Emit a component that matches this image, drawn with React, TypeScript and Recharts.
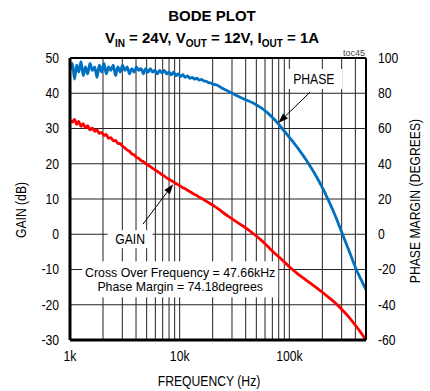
import React from 'react';
import { LineChart, Line, XAxis, YAxis, CartesianGrid, ReferenceLine, ReferenceDot } from 'recharts';

const FONT = "'Liberation Sans', Arial, sans-serif";
const SX = 0.87;

const freqs = [
  1000, 1050, 1100, 1150, 1200, 1260, 1320, 1380, 1450, 1520, 1600, 1680, 1760, 1850, 1940,
  2040, 2140, 2250, 2360, 2480, 2600, 2730, 2870, 3010, 3160, 3320, 3490, 3660, 3850, 4040,
  4240, 4450, 4670, 4900, 5150, 5400, 5670, 5960, 6260, 6570, 6900, 7250, 7610, 7990, 8390,
  8810, 9250, 9710, 10200, 10700, 11200, 11800, 12400, 13000, 13700, 14300, 15100, 15800, 16600,
  17400, 18300, 19200, 20200, 22000, 25000, 28000, 32000, 36000, 40000, 47660, 55000, 63000,
  72000, 86000, 100000, 120000, 140000, 155000, 180000, 200000, 228000, 260000, 298000, 340000,
  375000, 407000, 450000, 500000,
];

const gainDb = [
  32.5, 31.8, 32.6, 31.2, 32.0, 30.6, 31.4, 30.2, 30.8, 29.6, 30.1, 29.2, 29.6, 28.6, 28.9,
  28.0, 28.3, 27.2, 27.4, 26.5, 26.6, 25.8, 25.7, 25.0, 24.5, 23.9, 23.5, 22.8, 22.5, 21.8,
  21.5, 20.9, 20.6, 20.0, 19.6, 19.2, 18.7, 18.3, 17.8, 17.4, 16.9, 16.5, 16.0, 15.6, 15.2,
  14.8, 14.4, 14.0, 13.6, 13.2, 12.9, 12.5, 12.1, 11.7, 11.3, 11.0, 10.5, 10.2, 9.8,
  9.4, 9.0, 8.6, 8.2, 7.4, 6.1, 5.0, 3.8, 2.75, 1.8, 0, -1.6, -3.35,
  -5.1, -7.3, -9.2, -11.3, -12.85, -13.85, -15.35, -16.45, -17.9, -19.4, -21.2, -23.1,
  -24.7, -26.1, -27.95, -29.95,
];

const phaseDeg = [
  93, 97, 88, 96, 92, 98, 90, 95, 91, 97, 93, 95, 89, 96, 92,
  97, 91, 95, 93, 96, 90, 95, 92, 96, 93, 95, 91, 94, 92, 95,
  93, 94, 91, 94, 92, 94, 92, 93, 91, 93, 91.5, 93, 91, 92, 90.5,
  92, 90, 91, 89.5, 90.5, 89, 89.8, 88.5, 89, 88, 88.5, 87.5, 87.8, 87,
  86.8, 86, 85.8, 85.2, 84.5, 82.5, 81, 79.2, 77.6, 76.3, 74.18, 71.8, 69,
  65.5, 60, 55, 48.7, 42.8, 38.6, 31.8, 26.5, 19.1, 11.1, 1.7, -7.4,
  -14.2, -19.9, -25.6, -31.6,
];

const gridFreqs = [
  1000, 2000, 3000, 4000, 5000, 6000, 7000, 8000, 9000,
  10000, 20000, 30000, 40000, 50000, 60000, 70000, 80000, 90000,
  100000, 200000, 300000, 400000, 500000,
];
const decadeLabels: Record<number, string> = { 1000: '1k', 10000: '10k', 100000: '100k' };
const gainTicks = [-30, -20, -10, 0, 10, 20, 30, 40, 50];
const phaseTicks = [-60, -40, -20, 0, 20, 40, 60, 80, 100];

const title = 'BODE PLOT';
const crossoverText = ['Cross Over Frequency = 47.66kHz', 'Phase Margin = 74.18degrees'];

const data = freqs.map((f, i) => ({ f, gain: gainDb[i], phase: phaseDeg[i] }));

const CondText = (props: any) => {
  const { x, y, anchor, size = 14, sx = SX, children, dy, weight } = props;
  return (
    <g transform={`translate(${x},${y})`}>
      <text
        transform={`scale(${sx},1)`}
        textAnchor={anchor}
        dy={dy}
        fontFamily={FONT}
        fontSize={size}
        fontWeight={weight}
        fill="#000"
      >
        {children}
      </text>
    </g>
  );
};

const makeTick = (dy: string, fmt?: (v: number) => string) => (props: any) => {
  const { x, y, payload, textAnchor } = props;
  const label = fmt ? fmt(payload.value) : String(payload.value);
  if (!label) return null;
  return (
    <CondText x={x} y={y} anchor={textAnchor} dy={dy}>
      {label}
    </CondText>
  );
};

const XTick = makeTick('0.71em', (v: number) => decadeLabels[v] || '');
const YTick = makeTick('0.355em');

const LabelBox = (props: any) => {
  const { cx, cy, lines, w, h, lh, size = 14, sx = SX } = props;
  if (cx == null || cy == null) return null;
  const n = lines.length;
  return (
    <g>
      <rect x={cx - w / 2} y={cy - h / 2} width={w} height={h} fill="#fff" />
      {lines.map((t: string, i: number) => (
        <CondText
          key={i}
          x={cx}
          y={cy - ((n - 1) * lh) / 2 + i * lh}
          anchor="middle"
          dy="0.355em"
          size={size}
          sx={sx}
        >
          {t}
        </CondText>
      ))}
    </g>
  );
};

const Arrow = (props: any) => {
  const { x1, y1, x2, y2 } = props;
  if (x1 == null) return null;
  const dx = x2 - x1;
  const dy = y2 - y1;
  const len = Math.sqrt(dx * dx + dy * dy);
  const ux = dx / len;
  const uy = dy / len;
  const hl = 10;
  const hw = 3.5;
  const bx = x2 - ux * hl;
  const by = y2 - uy * hl;
  const pts = `${x2},${y2} ${bx - uy * hw},${by + ux * hw} ${bx + uy * hw},${by - ux * hw}`;
  return (
    <g>
      <line x1={x1} y1={y1} x2={bx} y2={by} stroke="#000" strokeWidth={1} />
      <polygon points={pts} fill="#000" />
    </g>
  );
};

export default function App() {
  return (
    <div style={{ position: 'absolute', left: 0, top: 0, width: 430, height: 391, background: '#fff' }}>
      <LineChart width={430} height={391} data={data} margin={{ top: 58, right: 0, left: 0, bottom: 0 }}>
        <CartesianGrid yAxisId="gain" stroke="#222" strokeWidth={1} />
        <XAxis
          dataKey="f"
          type="number"
          scale="log"
          domain={[1000, 500000]}
          ticks={gridFreqs}
          interval={0}
          allowDataOverflow
          tickLine={false}
          tickMargin={5}
          tick={XTick}
          axisLine={{ stroke: '#000', strokeWidth: 3 }}
          height={51}
        />
        <YAxis
          yAxisId="gain"
          domain={[-30, 50]}
          ticks={gainTicks}
          interval={0}
          tickLine={false}
          tickMargin={5}
          tick={YTick}
          axisLine={{ stroke: '#000', strokeWidth: 3 }}
          width={70}
        />
        <YAxis
          yAxisId="phase"
          orientation="right"
          domain={[-60, 100]}
          ticks={phaseTicks}
          interval={0}
          tickLine={false}
          tickMargin={6}
          tick={YTick}
          axisLine={{ stroke: '#000', strokeWidth: 2 }}
          width={64}
        />
        <ReferenceLine yAxisId="gain" y={50} stroke="#000" strokeWidth={2} />
        <Line yAxisId="phase" type="monotone" dataKey="phase" stroke="#0070C0" strokeWidth={2.8} dot={false} isAnimationActive={false} />
        <Line yAxisId="gain" type="monotone" dataKey="gain" stroke="#FF0000" strokeWidth={2.8} dot={false} isAnimationActive={false} />
        <ReferenceLine
          yAxisId="gain"
          segment={[{ x: 4640, y: 2.9 }, { x: 8720, y: 14.2 }]}
          ifOverflow="visible"
          shape={(p: any) => <Arrow {...p} />}
        />
        <ReferenceLine
          yAxisId="phase"
          segment={[{ x: 155000, y: 80.7 }, { x: 79300, y: 63.1 }]}
          ifOverflow="visible"
          shape={(p: any) => <Arrow {...p} />}
        />
        <ReferenceDot
          yAxisId="gain"
          x={3530}
          y={-1.4}
          r={1}
          ifOverflow="visible"
          shape={(p: any) => <LabelBox cx={p.cx} cy={p.cy} lines={['GAIN']} w={45} h={18} lh={14} />}
        />
        <ReferenceDot
          yAxisId="phase"
          x={167000}
          y={88.1}
          r={1}
          ifOverflow="visible"
          shape={(p: any) => <LabelBox cx={p.cx} cy={p.cy} lines={['PHASE']} w={57} h={20} lh={14} />}
        />
        <ReferenceDot
          yAxisId="gain"
          x={10100}
          y={-12.8}
          r={1}
          ifOverflow="visible"
          shape={(p: any) => (
            <LabelBox cx={p.cx} cy={p.cy} lines={crossoverText} w={196} h={36} lh={14.5} size={13} sx={0.95} />
          )}
        />
      </LineChart>
      <svg width={430} height={391} style={{ position: 'absolute', left: 0, top: 0, pointerEvents: 'none' }}>
        <text x={212} y={21} textAnchor="middle" fontFamily={FONT} fontWeight="bold" fontSize={15}>
          {title}
        </text>
        <text x={212} y={43} textAnchor="middle" fontFamily={FONT} fontWeight="bold" fontSize={15}>
          <tspan>V</tspan>
          <tspan fontSize={10} dy={4}>IN</tspan>
          <tspan dy={-4}> = 24V, V</tspan>
          <tspan fontSize={10} dy={4}>OUT</tspan>
          <tspan dy={-4}> = 12V, I</tspan>
          <tspan fontSize={10} dy={4}>OUT</tspan>
          <tspan dy={-4}> = 1A</tspan>
        </text>
        <text x={365} y={56} textAnchor="end" fontFamily={FONT} fontSize={9} fill="#444">
          toc45
        </text>
        <g transform="translate(26,210) rotate(-90)">
          <CondText x={0} y={0} anchor="middle">GAIN (dB)</CondText>
        </g>
        <g transform="translate(420,201) rotate(-90)">
          <CondText x={0} y={0} anchor="middle">PHASE MARGIN (DEGREES)</CondText>
        </g>
        <CondText x={209} y={386} anchor="middle">FREQUENCY (Hz)</CondText>
      </svg>
    </div>
  );
}
